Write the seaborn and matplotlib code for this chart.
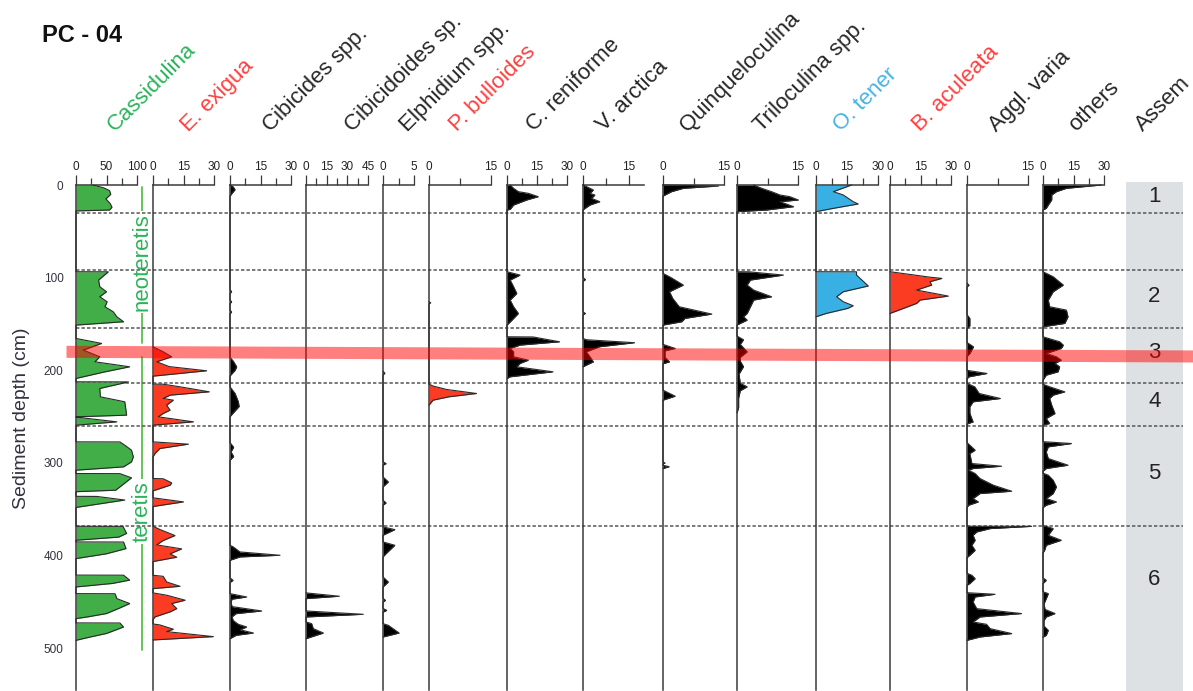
import matplotlib
matplotlib.use("Agg")
import matplotlib.pyplot as plt
import seaborn as sns

# ---------------------------------------------------------------------------
# Core PC-04: relative abundances (%) against sediment depth (cm)
# each list holds (depth, percent) vertices of one taxon's profile
# ---------------------------------------------------------------------------
cassidulina = [
    (0, 28), (3, 45), (6, 55), (10, 57), (15, 49), (20, 56), (24, 59), (27, 55), (28, 0),
    (93.6, 0), (93.7, 53), (102.6, 37), (109.8, 39), (115.2, 50), (120.6, 39), (126, 51),
    (131.4, 47.5), (136.8, 61), (142.2, 67), (147.6, 78), (151.2, 0),
    (165.6, 0), (171, 42), (178.2, 12), (185.4, 39), (190.8, 31), (196.2, 88), (202, 45), (208.8, 0),
    (212.4, 0), (212.5, 86), (219.6, 39), (228.6, 40), (234, 80), (248.4, 83), (250.2, 0),
    (250.5, 0), (255.6, 67), (259.2, 0),
    (277.2, 0), (277.3, 72), (280.8, 80), (286.2, 91), (293.4, 94), (298.8, 91), (304.2, 78), (307.8, 0),
    (311.4, 0), (311.5, 72), (316, 91), (329.4, 65), (331, 0),
    (336, 0), (336.1, 34), (340, 80), (348, 0),
    (368.3, 0), (368.4, 77), (376, 83), (380, 70), (383.4, 0),
    (385.2, 0), (385.3, 78), (392.4, 82), (398, 50), (403.2, 0),
    (421, 0), (421.1, 78), (426.4, 88), (430, 60), (433.8, 0),
    (441, 0), (441.1, 64), (446.4, 67), (451.7, 88), (457, 70), (462.5, 50), (466, 20), (468, 0),
    (472.6, 0), (472.7, 72), (477, 78), (484, 50), (487.7, 24), (491.4, 0),
]
e_exigua = [
    (174.6, 0), (180, 5), (185.4, 9.2), (190.8, 1.8), (196, 8), (200.5, 26.4), (203, 15), (206.3, 0),
    (214.9, 0), (215, 5), (217.8, 13.3), (223.2, 27.7), (226.8, 8.4), (230.4, 5), (232.2, 10),
    (237.6, 6.7), (243, 8.4), (246.6, 5), (250.2, 2.6), (255.6, 19.9), (259.2, 0),
    (277.2, 0), (279.7, 17.4), (284.4, 3.4), (289.8, 1), (293.4, 0),
    (316.8, 0), (317, 5), (321.5, 9.2), (324, 8.4), (330.1, 0),
    (337.6, 0), (342, 15), (347, 0),
    (368.3, 0), (371.8, 3.4), (378.3, 10.8), (383.7, 5), (388.4, 1.8), (392.7, 14.1),
    (398.1, 8.4), (401.7, 11.7), (406.4, 0),
    (421.2, 0), (422.3, 5), (428.4, 6.7), (433.1, 13.3), (435.6, 0),
    (440.2, 0), (442.7, 6.7), (448.1, 15.8), (451.7, 9.2), (453.5, 10), (457.1, 11.7),
    (460.7, 8.4), (466.1, 1), (469, 0),
    (473.7, 0), (474.8, 3.4), (479.4, 10), (482, 6.7), (487.4, 29.7), (491, 0),
]
cibicides = [
    (0, 0), (2, 1.6), (5, 2.5), (9, 1), (12, 0),
    (113, 0), (115, 0.8), (117, 0), (124, 0), (126, 0.8), (128, 0), (135, 0), (137, 0.8), (139, 0),
    (186, 0), (190, 1.6), (196.2, 3.3), (200, 2.5), (206, 0),
    (217.8, 0), (225, 2.5), (233.8, 4.1), (239, 4.5), (245, 2), (250, 0),
    (278, 0), (283, 1.8), (288, 0.5), (293, 1.8), (297, 0),
    (388.8, 0), (390.6, 1.6), (396, 4.9), (399.6, 24.6), (401.4, 4.9), (405, 0),
    (424, 0), (426.6, 1.5), (429, 0),
    (441, 0), (444.6, 8.2), (447, 1), (450, 0.5), (455, 1), (459.7, 15.6), (462.6, 3),
    (466, 1), (470, 1.6), (474, 4), (477, 8.2), (480, 5), (483.5, 11.5), (486, 3), (489.6, 0),
]
cibicidoides = [
    (440.2, 0), (443.8, 24.2), (446.4, 0),
    (459.7, 0), (463.3, 41.6), (466.2, 0),
    (471.6, 0), (473.4, 4.1), (478.8, 5.3), (483.5, 12.6), (489.6, 0),
]
elphidium = [
    (201, 0), (203, 0.3), (205, 0),
    (298.8, 0), (300.6, 0.5), (302.4, 0),
    (315, 0), (320.4, 0.86), (325.8, 0),
    (340.2, 0), (343.1, 0.5), (345.6, 0),
    (369, 0), (371.9, 1.9), (378, 0),
    (385.2, 0), (388.8, 1.9), (397.8, 0.5), (401.4, 0),
    (423, 0), (428.4, 0.86), (433.8, 0),
    (446, 0), (448.2, 0.4), (450, 0),
    (457, 0), (459, 0.6), (461, 0),
    (473.4, 0), (475.2, 0.86), (483.5, 2.6), (487.8, 0),
]
p_bulloides = [
    (126, 0), (127, 0.4), (128.5, 0),
    (214.9, 0), (217, 1), (220.7, 4.3), (225, 11.5), (228.6, 4.8), (232.2, 1), (237.6, 0),
]
c_reniforme = [
    (0, 1.6), (3.6, 3.3), (7.2, 5.7), (9, 10.7), (12.6, 15.6), (16.2, 9.8), (21.6, 3.3),
    (26.3, 1.6), (27, 0),
    (93.6, 0), (97.2, 6.5), (102.6, 1.6), (109.8, 3.3), (117, 4.9), (124.2, 1.6), (131.4, 3.3),
    (138.6, 5.7), (145.8, 2.5), (151.2, 0),
    (163.8, 0), (164, 13.1), (169.2, 26.3), (172.8, 6.5), (176.4, 1.6), (180, 3.3), (185.4, 3.3),
    (189, 10.7), (192.6, 6.5), (196.2, 4.9), (201.6, 23), (207, 1.6), (208.8, 0),
]
v_arctica = [
    (0, 0), (1.8, 1.2), (5.4, 3.4), (9, 2.3), (10.8, 3.9), (14.4, 2.8), (18, 5.5),
    (21.6, 2.3), (25.2, 0.7), (27, 0),
    (100, 0), (102, 0.8), (104, 0), (137, 0), (138.6, 0.8), (140, 0),
    (165.6, 0), (167, 1.1), (169.2, 12), (170.2, 16.9), (174.6, 5.4), (180, 1.1),
    (185.4, 2.3), (190.8, 3.4), (194.4, 1.1), (196.2, 0),
]
quinqueloculina = [
    (0, 0), (0.5, 6), (1.1, 13.7), (3.6, 5), (7.2, 2.1), (10.8, 0.5), (12, 0),
    (95.4, 0), (100, 2), (108, 5), (115.2, 1.6), (122.4, 2.4), (131.4, 4), (139.3, 12),
    (144, 5.4), (147.6, 4.6), (151.2, 0),
    (172, 0), (176.4, 3), (179, 0.5), (186, 0.5), (190.8, 1.6), (193, 0),
    (221.4, 0), (227.9, 3), (232.2, 0),
    (299, 0), (300, 0.5), (301, 0), (302.5, 0), (304, 1.5), (306, 0),
]
triloculina = [
    (0, 4.1), (3.6, 6.1), (7.2, 8.5), (10.8, 10.6), (12.6, 13), (16.2, 15.1), (18, 10.6),
    (23.4, 13.9), (25.2, 10.6), (27, 7.3), (28.8, 0),
    (93.6, 0), (93.7, 3), (97.2, 11.4), (102.6, 3.3), (108, 2.5), (113.4, 4.1), (120.6, 8.5),
    (124.2, 4.1), (131.4, 3.3), (138.6, 2.5), (142.2, 1.6), (145.8, 2.5), (149.4, 0.8), (151.2, 0),
    (163, 0), (167, 1.6), (172, 0.8), (180, 2.5), (186, 0.8), (190, 0.8), (196, 1.6),
    (204, 0.5), (214, 0.8), (217.8, 2.5), (222, 0.8), (230, 0.4), (240, 0.4), (246, 0),
]
o_tener = [
    (0, 17.2), (7.2, 8.4), (10.8, 13.2), (14.4, 15.6), (18, 18), (20.5, 20.4), (25.2, 8.4), (28.8, 0),
    (93.6, 0), (93.7, 19.6), (97.2, 19.6), (109, 25.3), (115.2, 13.2), (120.6, 10), (126, 13.2),
    (130.3, 18), (133.2, 15.3), (138.6, 5), (142.2, 0),
]
b_aculeata = [
    (93.6, 0), (99.5, 19.7), (100.8, 25.5), (104.4, 19.7), (108, 20.5), (113.4, 13.1),
    (119.9, 28.7), (124.2, 14.8), (127.8, 13.1), (133.2, 6.6), (138.6, 0),
]
aggl_varia = [
    (106, 0), (108, 0.5), (110, 0),
    (140, 0), (144, 0.7), (152, 0.7), (155, 0),
    (170, 0), (174.6, 1.6), (181.8, 0.7), (185, 0),
    (200, 0), (203.4, 4.9), (207, 0.5), (209, 0),
    (214, 0), (217.8, 1.9), (225, 3), (230.4, 8.2), (234, 1.5), (239.4, 0.7), (246, 0.7),
    (250, 1), (255.6, 1.5), (258, 0),
    (278, 0), (280.8, 0.7), (286.2, 2), (289.8, 0.7), (300.6, 1.2), (303.5, 8.5), (306, 1.5),
    (307.8, 0.4), (311.4, 2), (316.8, 3.2), (324, 6.5), (330.5, 11), (333, 3.2), (338.4, 1.5),
    (342, 2.8), (345.6, 0.4), (348, 0),
    (368.3, 0), (368.4, 15.9), (370.8, 5.7), (374.4, 2.4), (378, 1.5), (383.4, 2), (388.8, 1.2),
    (394.2, 2), (399.6, 0.7), (402, 0),
    (419, 0), (421.2, 1.2), (424.8, 2), (430.1, 0.7), (432, 0),
    (440, 0), (441.7, 6.9), (444.6, 2), (450, 1.5), (457.2, 2.4), (462.5, 13.4), (466.2, 3.2),
    (471.6, 1.5), (474.1, 4.8), (478.8, 5.7), (484.1, 11), (487.8, 3.2), (491.4, 0),
]
others = [
    (0, 28.7), (3.6, 11.5), (7.2, 6.6), (10.8, 4.3), (16, 4.3), (21.6, 2.6), (25.2, 1.6), (27, 0),
    (93.6, 0), (99, 5), (108, 10), (115.2, 5), (124.2, 2.6), (131.4, 3.3), (135, 11.5),
    (142.2, 12.3), (149.4, 10.7), (153, 0),
    (163.8, 0), (169.2, 8.2), (172.8, 10), (176.4, 9), (181.8, 1.6), (185.4, 6.6), (189, 9),
    (192.6, 5.9), (196.2, 8.2), (201.6, 7.4), (205.2, 1.6), (210.6, 0),
    (215, 0), (217.8, 3.3), (223.2, 10.7), (226.8, 5), (230.4, 3.3), (237.6, 4.3), (246.6, 5.9),
    (252, 1.6), (257.4, 3.3), (259, 0),
    (277, 0), (279, 14), (282.6, 2.6), (288, 1.6), (295.2, 2.6), (302.4, 12.3), (306, 1.6), (309, 0),
    (311, 0), (313.2, 2.6), (318.6, 5), (325.8, 6.6), (333, 5), (338.4, 1.6), (342, 6.6),
    (345.6, 1.6), (348.1, 0),
    (368.3, 0), (368.4, 1.6), (370.8, 5), (378, 2.6), (383.4, 9), (388.8, 1.6), (394.2, 0.8), (397, 0),
    (424, 0), (426.6, 1.6), (430, 0),
    (439, 0), (441, 2.6), (446.4, 1.6), (452, 0.5), (458, 1), (462.5, 5.9), (466.2, 1.6),
    (470, 0.5), (476, 0.5), (480.6, 2.6), (486, 1.6), (488, 0),
]

taxa_names = ["Cassidulina", "E. exigua", "Cibicides spp.", "Cibicidoides sp.",
              "Elphidium spp.", "P. bulloides", "C. reniforme", "V. arctica",
              "Quinqueloculina", "Triloculina spp.", "O. tener", "B. aculeata",
              "Aggl. varia", "others"]
taxa_data = [cassidulina, e_exigua, cibicides, cibicidoides, elphidium, p_bulloides,
             c_reniforme, v_arctica, quinqueloculina, triloculina, o_tener, b_aculeata,
             aggl_varia, others]
scale_max = [100, 30, 30, 45, 5, 15, 30, 20, 15, 15, 30, 30, 15, 30]
major_ticks = [[0, 50, 100], [0, 15, 30], [0, 15, 30], [0, 15, 30, 45], [0, 5], [0, 15],
               [0, 15, 30], [0, 15], [0, 15], [0, 15], [0, 15, 30], [0, 15, 30], [0, 15],
               [0, 15, 30]]
groups = ["green", "red", "black", "black", "black", "red", "black", "black", "black",
          "black", "blue", "red", "black", "black"]

zone_boundaries = [30, 92, 154, 214, 260, 368]
assemblage_zones = [(0, 30), (92, 154), (154, 214), (214, 260), (260, 368), (368, 490)]
assemblage_labels = ["1", "2", "3", "4", "5", "6"]
event_depth = (173, 186)      # red marker band (depth range at left edge)
event_tilt = 5                # band drops this many cm across the figure
neoteretis_range = (2, 170)
teretis_range = (186, 502)
depth_ticks = [0, 100, 200, 300, 400, 500]

# ---------------------------------------------------------------------------
# styling / layout (pixels on a 1193 x 691 canvas)
# ---------------------------------------------------------------------------
sns.set_theme(style="white")
plt.rcParams["font.family"] = ["Liberation Sans", "DejaVu Sans"]

W, H = 1193, 691
TOP, BOTTOM = 185, 690
DEPTH_MAX = 545
PX_PER_CM = (BOTTOM - TOP) / DEPTH_MAX

fill_col = {"green": "#42ae48", "red": "#fb3b22", "blue": "#38b0e3", "black": "#000000"}
text_col = {"green": "#2bb35a", "red": "#ff3f3f", "blue": "#46b3e6", "black": "#262626"}
edge_col = "#2a2a2a"
axis_col = "#3a3a3a"

panel_left = [76, 153, 230, 306, 383, 429, 507, 583, 663, 737, 816, 890, 967, 1043]
panel_right = [137, 214, 291, 368, 414, 491, 567, 644, 724, 798, 878, 951, 1028, 1104]
label_x = [115, 188, 270, 352, 407, 457, 534, 604, 687, 761, 841, 920, 996, 1076]
label_base = 132
label_size = 16
label_angle = 45

fig = plt.figure(figsize=(W / 100, H / 100), dpi=100)


def px_rect(x0, x1, y0, y1):
    return [x0 / W, 1 - y1 / H, (x1 - x0) / W, (y1 - y0) / H]


def depth_of(ypx):
    return (ypx - TOP) / PX_PER_CM


# background layer: x in pixels, y in depth
ax_bg = fig.add_axes([0, 0, 1, 1], zorder=0)
ax_bg.set_xlim(0, W)
ax_bg.set_ylim(depth_of(H), depth_of(0))
ax_bg.axis("off")

# assemblage column
ax_bg.fill_between([1126, 1183], depth_of(182), DEPTH_MAX + 1, color="#dde1e4", lw=0)
for (z0, z1), lab in zip(assemblage_zones, assemblage_labels):
    ax_bg.text(1154.5, (z0 + z1) / 2 - 3, lab, ha="center", va="center", fontsize=16,
               color="#222222")

# zone boundaries
for b in zone_boundaries:
    ax_bg.plot([76, 1183], [b, b], color="#555555", lw=1.1, ls=(0, (2.2, 1.4)), zorder=5)

# neoteretis / teretis ranges
green_line = "#5cbf4c"
ax_bg.plot([142, 142], neoteretis_range, color=green_line, lw=1.3)
ax_bg.plot([142, 142], teretis_range, color=green_line, lw=1.3)
ax_bg.text(142, 83, "neoteretis", rotation=90, ha="center", va="center", fontsize=16,
           color=text_col["green"], bbox=dict(fc="white", ec="none", pad=1.5))
ax_bg.text(142, 352, "teretis", rotation=90, ha="center", va="center", fontsize=16,
           color=text_col["green"], bbox=dict(fc="white", ec="none", pad=1.5))

# taxon panels
for i, name in enumerate(taxa_names):
    ax = fig.add_axes(px_rect(panel_left[i], panel_right[i], TOP, BOTTOM), zorder=2)
    ax.set_facecolor("none")
    depth, pct = zip(*taxa_data[i])
    ax.fill_betweenx(depth, 0, pct, color=fill_col[groups[i]], lw=0, clip_on=False, zorder=2)
    sns.lineplot(x=list(pct), y=list(depth), orient="y", sort=False, estimator=None,
                 color=edge_col, lw=0.8, ax=ax, clip_on=False, zorder=3)
    ax.set_xlim(0, scale_max[i])
    ax.set_ylim(DEPTH_MAX, 0)
    ax.set_xlabel("")
    ax.set_ylabel("")
    for side in ("right", "bottom"):
        ax.spines[side].set_visible(False)
    for side in ("left", "top"):
        ax.spines[side].set_color(axis_col)
        ax.spines[side].set_linewidth(1.1)
    ax.xaxis.tick_top()
    mt = major_ticks[i]
    step = mt[1] - mt[0]
    ax.set_xticks(mt)
    ax.set_xticks([t + step / 2 for t in mt if t + step / 2 < scale_max[i]], minor=True)
    ax.set_xticklabels([str(t) for t in mt])
    ax.tick_params(axis="x", which="major", direction="out", length=7, width=0.9,
                   pad=1.5, labelsize=8.5, colors=axis_col, labelcolor="#222222")
    ax.tick_params(axis="x", which="minor", direction="out", length=5, width=0.9,
                   colors=axis_col)
    if i == 0:
        ax.set_yticks(depth_ticks)
        ax.set_yticks([d + 50 for d in depth_ticks[:-1]], minor=True)
        ax.set_yticklabels([str(d) for d in depth_ticks])
        ax.tick_params(axis="y", which="major", direction="out", length=6.5, width=0.9,
                       pad=2.5, labelsize=8.5, colors=axis_col, labelcolor="#333340")
        ax.tick_params(axis="y", which="minor", direction="out", length=4, width=0.9,
                       colors=axis_col)
    else:
        ax.set_yticks([])
    ax.grid(False)

    fig.text(label_x[i] / W, 1 - label_base / H, name, rotation=label_angle,
             rotation_mode="anchor", ha="left", va="baseline", fontsize=label_size,
             color=text_col[groups[i]])

fig.text(1143 / W, 1 - label_base / H, "Assem", rotation=label_angle, rotation_mode="anchor",
         ha="left", va="baseline", fontsize=label_size, color=text_col["black"])

# foreground layer: red marker band
ax_fg = fig.add_axes([0, 0, 1, 1], zorder=5)
ax_fg.set_xlim(0, W)
ax_fg.set_ylim(depth_of(H), depth_of(0))
ax_fg.axis("off")
ax_fg.set_facecolor("none")
ax_fg.fill_between([66, W], [event_depth[0], event_depth[0] + event_tilt],
                   [event_depth[1], event_depth[1] + event_tilt],
                   color="red", alpha=0.5, lw=0)

# titles
fig.text(42 / W, 1 - 36 / H, "PC - 04", ha="left", va="center", fontsize=17,
         fontweight="bold", color="#111111")
fig.text(22 / W, 1 - 418 / H, "Sediment depth (cm)", rotation=90, ha="center",
         va="center", fontsize=14, color="#333340")

fig.savefig("out.png", dpi=100)
